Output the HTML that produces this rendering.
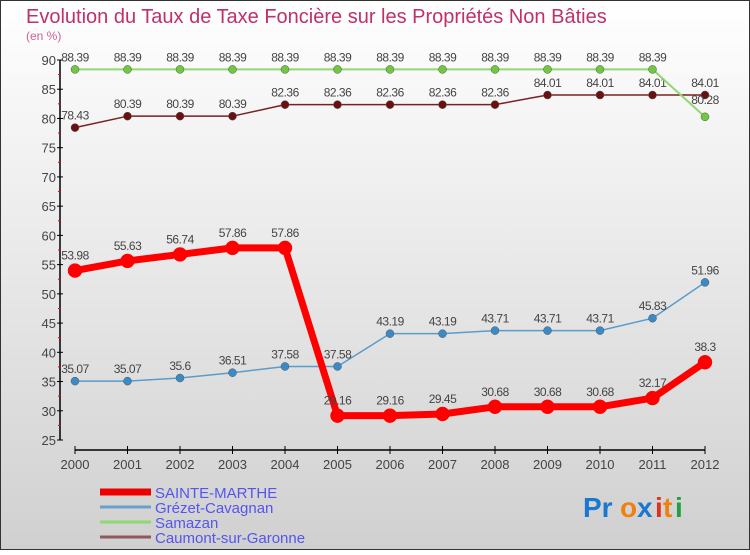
<!DOCTYPE html>
<html><head><meta charset="utf-8"><style>
html,body{margin:0;padding:0}
body{width:750px;height:550px;overflow:hidden;font-family:"Liberation Sans",sans-serif}
</style></head><body>
<svg id="chart" width="750" height="550" xmlns="http://www.w3.org/2000/svg">
<defs><linearGradient id="bg" x1="0" y1="0" x2="0" y2="1"><stop offset="0" stop-color="#ffffff"/><stop offset="1" stop-color="#d0d0d0"/></linearGradient></defs>
<rect x="0.5" y="0.5" width="749" height="549" fill="url(#bg)" stroke="#333" stroke-width="1"/>
<text x="26" y="23" font-size="20" fill="#c0306a">Evolution du Taux de Taxe Foncière sur les Propriétés Non Bâties</text>
<text x="26" y="40" font-size="12" fill="#d06090">(en %)</text>
<g id="axes"></g>
<g id="series"></g>
<g id="legend"></g>
<g font-size="28" font-weight="bold" font-family="'Liberation Sans',sans-serif">
<text x="583" y="517" fill="#1a78d0">Pr</text><text x="620" y="517" fill="#f08010">o</text><text x="637" y="517" fill="#1a78d0">x</text><text x="655" y="517" fill="#e03020">i</text><text x="663" y="517" fill="#f08010">t</text><text x="675" y="517" fill="#20a040">i</text>
</g>
</svg>
<script>
const years=[2000,2001,2002,2003,2004,2005,2006,2007,2008,2009,2010,2011,2012];
const yTicks=[25,30,35,40,45,50,55,60,65,70,75,80,85,90];
const sainteMarthe=[53.98,55.63,56.74,57.86,57.86,29.16,29.16,29.45,30.68,30.68,30.68,32.17,38.3];
const grezet=[35.07,35.07,35.6,36.51,37.58,37.58,43.19,43.19,43.71,43.71,43.71,45.83,51.96];
const samazan=[88.39,88.39,88.39,88.39,88.39,88.39,88.39,88.39,88.39,88.39,88.39,88.39,80.28];
const caumont=[78.43,80.39,80.39,80.39,82.36,82.36,82.36,82.36,82.36,84.01,84.01,84.01,84.01];
const NS="http://www.w3.org/2000/svg";
const X=i=>75+i*52.5;
const Y=v=>60+(90-v)*(380/65);
function mk(tag,attrs,parent){const e=document.createElementNS(NS,tag);for(const k in attrs)e.setAttribute(k,attrs[k]);parent.appendChild(e);return e;}
const axes=document.getElementById('axes');
let yl=mk('line',{x1:60,y1:Y(90),x2:60,y2:Y(25),stroke:'#000','stroke-width':1.5},axes);


yTicks.forEach(v=>{
 mk('line',{x1:57,y1:Y(v),x2:63,y2:Y(v),stroke:'#000'},axes);
 if(v<90) mk('line',{x1:58,y1:Y(v+2.5),x2:61,y2:Y(v+2.5),stroke:'#e00'},axes);
 const t=mk('text',{x:56,y:Y(v)+5,'text-anchor':'end','font-size':13,fill:'#444'},axes);
 t.textContent=v;
 
 
});
let xl=mk('line',{x1:X(0),y1:450,x2:X(12),y2:450,stroke:'#000','stroke-width':1.5},axes);


years.forEach((y,i)=>{
 mk('line',{x1:X(i),y1:446,x2:X(i),y2:454,stroke:'#000'},axes);
 const t=mk('text',{x:X(i),y:469,'text-anchor':'middle','font-size':13,fill:'#444'},axes);
 t.textContent=y;
 
 
});
const sg=document.getElementById('series');
function series(name,data,color,dot,w,r,lblOff){
 const g=mk('g',{},sg);
 
 
 mk('polyline',{points:data.map((v,i)=>X(i)+','+Y(v)).join(' '),fill:'none',stroke:color,'stroke-width':w,'stroke-linejoin':'round'},g);
 data.forEach((v,i)=>{
  const c=mk('circle',{cx:X(i),cy:Y(v),r:r,fill:dot,stroke:w>3?dot:'#555','stroke-width':0.5},g);
  
  
  const t=mk('text',{x:X(i),y:Y(v)+lblOff(i),'text-anchor':'middle','font-size':12,fill:'#444','letter-spacing':'-0.5'},g);
  t.textContent=v;
  
  
 });
}
series('caumont',caumont,'#7a2020','#6a1010',1.5,4,i=>-8);
series('samazan',samazan,'#90d870','#70c840',2,4,i=>i==12?-13:-8);
series('grezet',grezet,'#5a9ccc','#3a8ac8',1.5,4,i=>-8);
series('sainte-marthe',sainteMarthe,'#ff0000','#f00',7,7,i=>-11);
const lg=document.getElementById('legend');
const items=[['SAINTE-MARTHE','#ee0000',7],['Grézet-Cavagnan','#6aa0cc',3],['Samazan','#90d870',3],['Caumont-sur-Garonne','#905858',3]];
items.forEach((it,k)=>{
 const y=492+k*15;
 mk('line',{x1:100,y1:y,x2:151,y2:y,stroke:it[1],'stroke-width':it[2]},lg);
 const t=mk('text',{x:155,y:y+6,'font-size':15,fill:'#5555ee'},lg);
 t.textContent=it[0];
 
 
});
</script>
</body></html>
